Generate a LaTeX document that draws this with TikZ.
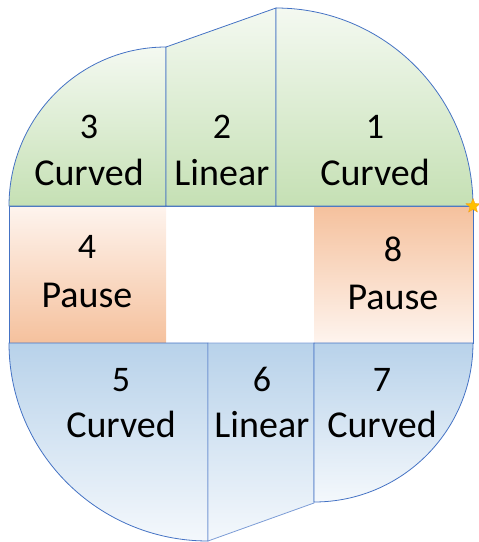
\documentclass[tikz,border=0pt]{standalone}
\usepackage{fontspec}
\setmainfont{Carlito}
\usepackage{tikz}
\usetikzlibrary{shapes.geometric}
\definecolor{segLine}{HTML}{4472C4}
\definecolor{segGreen}{HTML}{C5E0B4}
\definecolor{segGreenTop}{HTML}{F4F9F1}
\definecolor{segOrange}{HTML}{F5C19D}
\definecolor{segOrangeTop}{HTML}{FEF4EE}
\definecolor{segBlue}{HTML}{B8D2EA}
\definecolor{segBlueEnd}{HTML}{F4F8FC}
\definecolor{segStar}{HTML}{FFC000}
\definecolor{segStarCore}{HTML}{ED7D31}
\tikzset{
  % Upper legs: green, fading out towards the top.
  seg/up/.style={
    draw=segLine, line width=0.8pt, top color=segGreenTop, bottom color=segGreen
  },
  % Lower legs: blue, fading out towards the bottom.
  seg/down/.style={
    draw=segLine, line width=0.8pt, top color=segBlue, bottom color=segBlueEnd
  },
  % Pauses sit in the middle band, no own outline.
  seg/hold/.style={draw=none},
  % Labels: number above, kind below.
  seg/num/.style={font=\fontsize{36}{42}\selectfont, anchor=base, inner sep=0pt},
  seg/word/.style={font=\fontsize{38}{46}\selectfont, anchor=base, inner sep=0pt},
}
\begin{document}
\begin{tikzpicture}[x=1pt,y=-1pt]
  \useasboundingbox (0,0) rectangle (479,542);

  % middle band
  \path[seg/hold, top color=segOrangeTop, bottom color=segOrange] (9,206) rectangle (166,343);
  \path[seg/hold, top color=segOrange, bottom color=segOrangeTop] (314,206) rectangle (473,343);
  \draw[segLine, line width=0.8pt] (9,206) rectangle (473,343);

  % upper legs
  \draw[seg/up] (9,206) arc[start angle=180, end angle=270, x radius=157, y radius=159]
        -- (166,206) -- cycle;
  \draw[seg/up] (166,47) -- (276,8) -- (276,206) -- (166,206) -- cycle;
  \draw[seg/up] (276,8) arc[start angle=-90, end angle=0, x radius=197, y radius=198]
        -- (276,206) -- cycle;

  % lower legs
  \draw[seg/down] (9,343) arc[start angle=180, end angle=90, x radius=199, y radius=198]
        -- (208,343) -- cycle;
  \draw[seg/down, draw=segLine!70] (208,343) -- (314,343) -- (314,503) -- (208,541) -- cycle;
  \draw[seg/down] (314,502) arc[start angle=90, end angle=0, x radius=159, y radius=159]
        -- (314,343) -- cycle;

  % start marker
  \node[star, star points=5, star point ratio=2.3, fill=segStar, draw=segStarCore!60!segStar,
        line width=0.3pt, minimum size=15pt, inner sep=0pt] (start) at (473,206) {};

  \node[seg/num]  (n3) at (89,138)  {3};
  \node[seg/word] (w3) at (89,185)  {Curved};
  \node[seg/num]  (n2) at (222,138) {2};
  \node[seg/word] (w2) at (222,185) {Linear};
  \node[seg/num]  (n1) at (375,138) {1};
  \node[seg/word] (w1) at (375,185) {Curved};

  \node[seg/num]  (n4) at (87,258)  {4};
  \node[seg/word] (w4) at (87,307)  {Pause};
  \node[seg/num]  (n8) at (393,261) {8};
  \node[seg/word] (w8) at (393,309) {Pause};

  \node[seg/num]  (n5) at (121,391) {5};
  \node[seg/word] (w5) at (121,437) {Curved};
  \node[seg/num]  (n6) at (262,391) {6};
  \node[seg/word] (w6) at (262,437) {Linear};
  \node[seg/num]  (n7) at (382,391) {7};
  \node[seg/word] (w7) at (382,437) {Curved};
\end{tikzpicture}
\end{document}
